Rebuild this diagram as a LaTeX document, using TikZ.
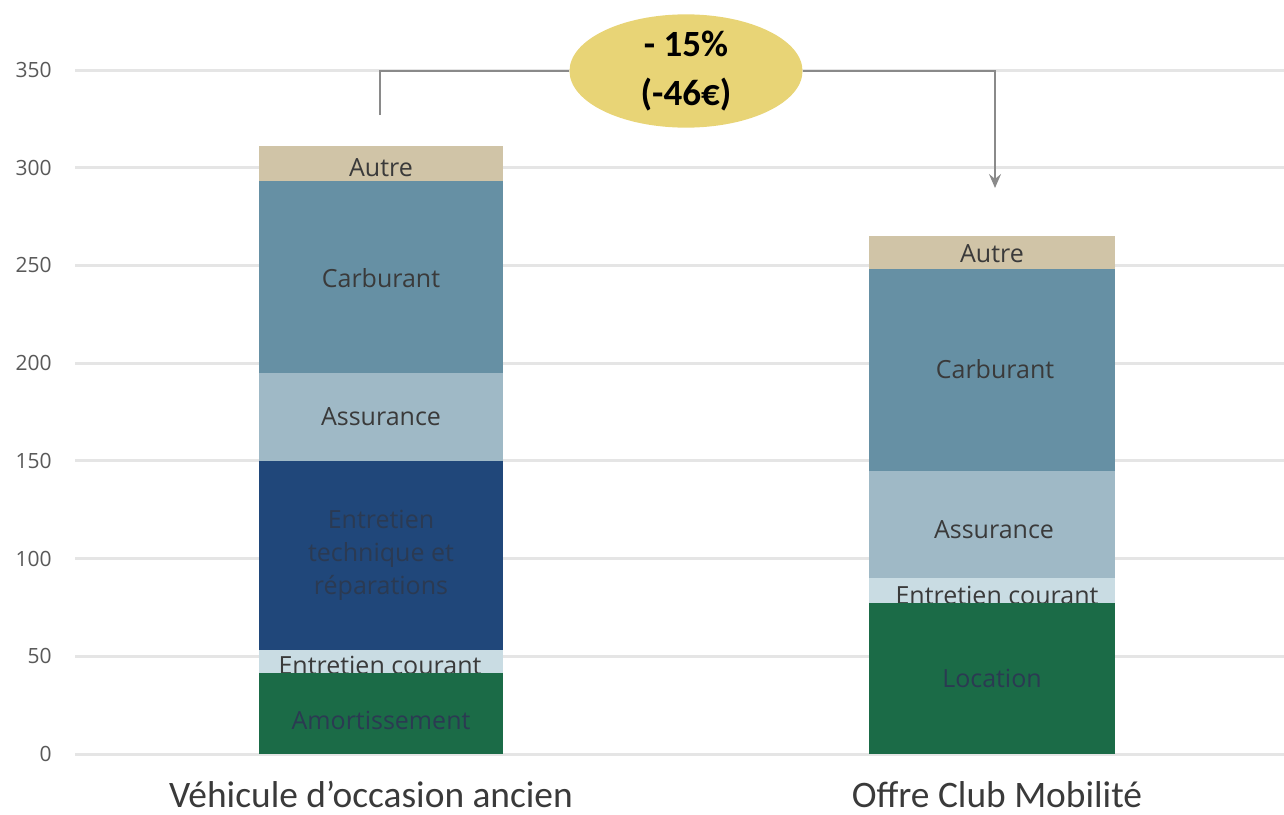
\documentclass[tikz,border=0pt]{standalone}
\usepackage{fontspec}
\setmainfont{Open Sans}
\newfontfamily\catfont{Carlito}
\usetikzlibrary{shapes.geometric,arrows.meta}

\definecolor{gridgray}{HTML}{E5E5E5}
\definecolor{ticktext}{HTML}{595959}
\definecolor{segtext}{HTML}{3A3A3A}
\definecolor{darktext}{HTML}{2B3A52}
\definecolor{cAutre}{HTML}{D0C4A7}
\definecolor{cCarb}{HTML}{6690A4}
\definecolor{cAssur}{HTML}{9FB9C6}
\definecolor{cTech}{HTML}{20477A}
\definecolor{cCourant}{HTML}{C9DCE3}
\definecolor{cGreen}{HTML}{1B6B47}
\definecolor{callout}{HTML}{E8D476}
\definecolor{linkgray}{HTML}{8A8A8A}

\begin{document}
\begin{tikzpicture}[x=0.5pt,y=-0.5pt,
  gridline/.style={draw=gridgray,line width=1.5pt},
  ticklbl/.style={anchor=east,text=ticktext,font=\fontsize{10.5}{12}\selectfont,inner sep=0pt},
  seglbl/.style={text=segtext,font=\fontsize{12.5}{14}\selectfont,inner sep=0pt,align=center},
  catlbl/.style={text=segtext,font=\catfont\fontsize{18.7}{21}\selectfont,inner sep=0pt,anchor=base},
  link/.style={draw=linkgray,line width=1pt}]
\useasboundingbox (0,0) rectangle (1284,814);

% horizontal grid and value axis
\foreach \v [count=\i from 0] in {0,50,100,150,200,250,300,350}{
  \draw[gridline] (75,754-\i*97.71) -- (1284,754-\i*97.71);
  \node[ticklbl] (tick\i) at (52,754-\i*97.71) {\v};
}

% left stacked bar (the thin band's label is partly covered by the segment below)
\fill[cAutre]   (259,146) rectangle (503,181);
\fill[cCarb]    (259,181) rectangle (503,373);
\fill[cAssur]   (259,373) rectangle (503,461);
\fill[cTech]    (259,461) rectangle (503,650);
\fill[cCourant] (259,650) rectangle (503,673);
\node[seglbl,anchor=base] (lcour) at (380,674) {Entretien courant};
\fill[cGreen]   (259,673) rectangle (503,754);
\node[seglbl] (lautre) at (381,168) {Autre};
\node[seglbl] (lcarb) at (381,278) {Carburant};
\node[seglbl] (lassur) at (381,417) {Assurance};
\node[seglbl,text=darktext,font=\fontsize{12.5}{16.5}\selectfont] (ltech) at (381,555) {Entretien\\technique et\\réparations};
\node[seglbl,text=darktext] (lamort) at (381,720) {Amortissement};

% right stacked bar
\fill[cAutre]   (869,236) rectangle (1115,269);
\fill[cCarb]    (869,269) rectangle (1115,471);
\fill[cAssur]   (869,471) rectangle (1115,578);
\fill[cCourant] (869,578) rectangle (1115,603);
\node[seglbl,anchor=base] (rcour) at (997,604) {Entretien courant};
\fill[cGreen]   (869,603) rectangle (1115,754);
\node[seglbl] (rautre) at (992,254) {Autre};
\node[seglbl] (rcarb) at (995,369) {Carburant};
\node[seglbl] (rassur) at (994,530) {Assurance};
\node[seglbl,text=darktext] (rloc) at (992,678) {Location};

% category labels
\node[catlbl] (catA) at (371,807) {Véhicule d’occasion ancien};
\node[catlbl] (catB) at (997,807) {Offre Club Mobilité};

% savings callout and its connector
\node[ellipse,fill=callout,minimum width=116.5pt,minimum height=56.5pt,inner sep=0pt,
      align=center,font=\catfont\bfseries\fontsize{18.5}{24}\selectfont,text=black] (diff) at (686,71) {\raisebox{-1.5pt}{- 15\%}\\\raisebox{-2pt}{(-46€)}};
\coordinate (from) at (380,115);
\coordinate (to) at (995,188);
\draw[link] (from) |- (diff.west);
\draw[link,-{Stealth[length=7pt,width=6pt,inset=2.5pt]}] (diff.east) -| (to);
\end{tikzpicture}
\end{document}
